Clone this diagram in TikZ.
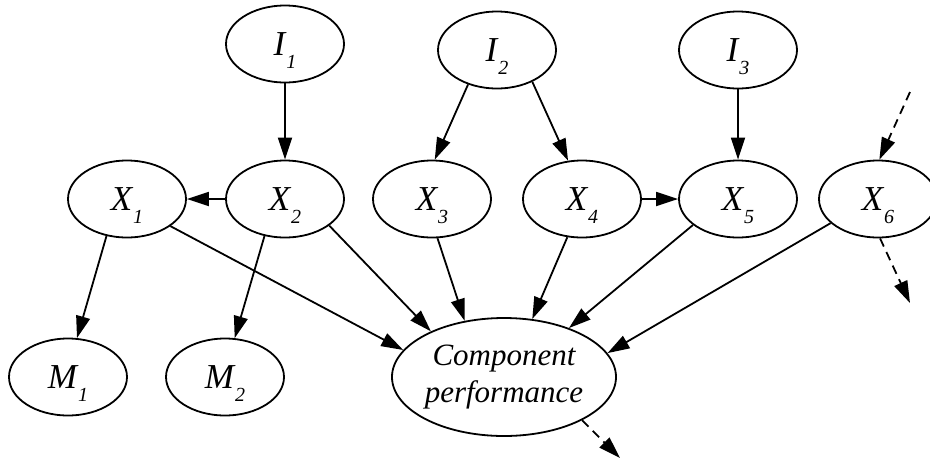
\documentclass[tikz,border=0pt]{standalone}
\usepackage{fontspec}
\setmainfont{Liberation Serif}
\usetikzlibrary{arrows.meta,shapes.geometric}

% variable with a lowered index, e.g. \varidx{X}{1}
\newcommand\varidx[2]{#1\hspace{1pt}\raisebox{-13pt}[0pt][0pt]{\fontsize{20}{20}\selectfont #2}}

\tikzset{
  var/.style={ellipse, draw, line width=1.8pt, inner sep=0pt,
    minimum width=118pt, minimum height=77pt,
    font=\fontsize{35}{40}\selectfont\itshape},
  perf/.style={var, minimum width=196pt, minimum height=118pt, align=center,
    font=\fontsize{31}{37}\selectfont\itshape},
  link/.style={line width=1.8pt, -{Triangle[length=22pt,width=14pt]}},
  open link/.style={link, dash pattern=on 9pt off 6pt}
}

\begin{document}
\begin{tikzpicture}[x=1pt, y=-1pt]
  \useasboundingbox (0,0) rectangle (930,459);

  % inputs
  \node[var] (I1) at (285,44) {\varidx{I}{1}};
  \node[var] (I2) at (497,50) {\varidx{I}{2}};
  \node[var] (I3) at (738,50) {\varidx{I}{3}};

  % component variables
  \node[var] (X1) at (127,199) {\varidx{X}{1}};
  \node[var] (X2) at (285,199) {\varidx{X}{2}};
  \node[var] (X3) at (432,199) {\varidx{X}{3}};
  \node[var] (X4) at (582,199) {\varidx{X}{4}};
  \node[var] (X5) at (738,199) {\varidx{X}{5}};
  \node[var] (X6) at (878,199) {\varidx{X}{6}};

  % measurements
  \node[var] (M1) at (68,377) {\varidx{M}{1}};
  \node[var] (M2) at (225,377) {\varidx{M}{2}};

  % outcome
  \node[perf] (CP) at (504,377) {Component\\performance};

  % loose ends of the dashed links
  \coordinate (in6)  at (910,92);
  \coordinate (out6) at (910,303);
  \coordinate (outP) at (620,458);

  % inputs to variables
  \draw[link] (I1.south) -- (X2.north);
  \draw[link] (I2.230) -- (X3.86);
  \draw[link] (I2.-42) -- (X4.110);
  \draw[link] (I3.south) -- (X5.north);

  % links between variables
  \draw[link] (X2.west) -- (X1.east);
  \draw[link] (X4.east) -- (X5.west);

  % variables to measurements
  \draw[link] (X1.-119) -- (M1.77);
  \draw[link] (X2.-119) -- (M2.76);

  % variables to performance
  \draw[link] (X1.-32) -- (CP.165);
  \draw[link] (X2.-31) -- (CP.148);
  \draw[link] (X3.-82) -- (CP.125);
  \draw[link] (X4.-111) -- (CP.64);
  \draw[link] (X5.-150) -- (CP.37);
  \draw[link] (X6.-153) -- (CP.13);

  % dashed links
  \draw[open link] (in6) -- (X6.88);
  \draw[open link] (X6.-87) -- (out6);
  \draw[open link] (CP.-29) -- (outP);
\end{tikzpicture}
\end{document}
